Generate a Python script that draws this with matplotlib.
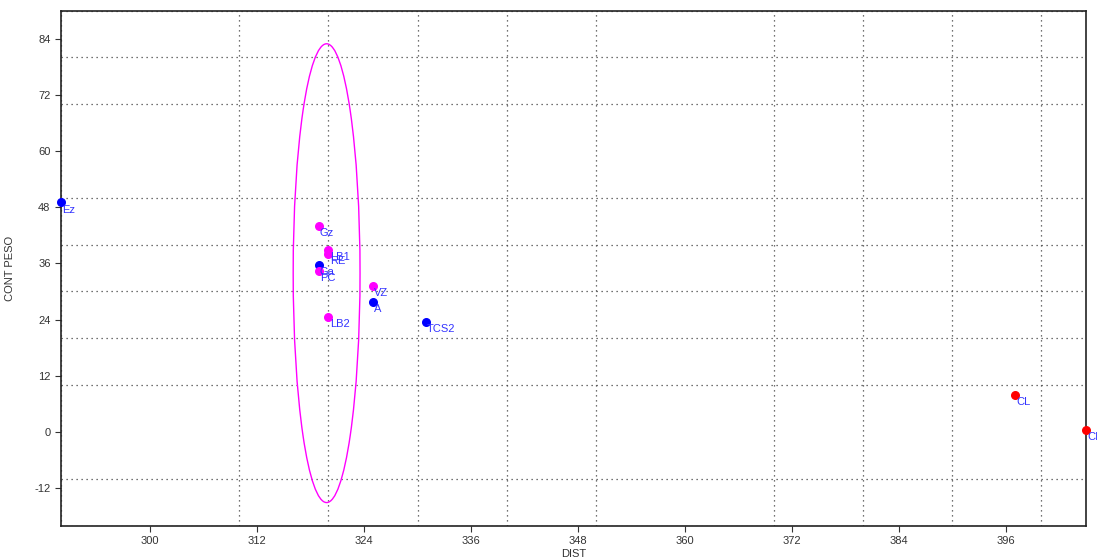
import numpy as np
import matplotlib.pyplot as plt
from matplotlib.patches import Ellipse
from matplotlib.ticker import MultipleLocator

plt.rcParams['font.family'] = ['Liberation Sans', 'DejaVu Sans']
plt.rcParams['axes.unicode_minus'] = False

# Point data (DIST, CONT PESO)
names = ["Ez", "Gz", "LB1", "RE", "Ga", "PC", "VZ", "A", "LB2", "TCS2", "CL", "CI"]
dist = [290.0, 318.9, 320.0, 320.0, 318.9, 318.9, 325.0, 325.0, 320.0, 330.9, 397.0, 405.0]
cont_peso = [49.0, 43.9, 38.8, 38.1, 35.7, 34.3, 31.1, 27.8, 24.5, 23.4, 7.8, 0.5]
groups = ["b", "m", "m", "m", "b", "m", "m", "b", "m", "b", "r", "r"]

colors = {"b": "#0000ff", "m": "#ff00ff", "r": "#ff0000"}

# Ellipse around the magenta group
ell_center = (319.8, 33.9)
ell_width = 7.5
ell_height = 98.0

fig = plt.figure(figsize=(10.97, 5.6), dpi=100)
ax = fig.add_axes([0.0556, 0.0616, 0.9344, 0.9196])

ax.set_xlim(290, 405)
ax.set_ylim(-20, 90)

# major ticks every 12, dotted grid every 10
ax.xaxis.set_major_locator(MultipleLocator(12))
ax.yaxis.set_major_locator(MultipleLocator(12))
ax.xaxis.set_minor_locator(MultipleLocator(10))
ax.yaxis.set_minor_locator(MultipleLocator(10))
ax.tick_params(which="minor", length=0)
ax.tick_params(which="major", length=4, width=0.8, labelsize=8, colors="#333333")
ax.grid(which="minor", linestyle=(0, (1, 3)), color="#444444", linewidth=0.9)
ax.set_axisbelow(True)

for s in ax.spines.values():
    s.set_linewidth(1.2)
    s.set_color("#222222")

ell = Ellipse(ell_center, ell_width, ell_height, fill=False, edgecolor="#ff00ff", linewidth=1.0)
ax.add_patch(ell)

for n, x, y, g in zip(names, dist, cont_peso, groups):
    ax.scatter(x, y, s=30, color=colors[g], zorder=3, clip_on=False)
    ax.annotate(n, (x, y), xytext=(1, -1.5), textcoords="offset points",
                ha="left", va="top", fontsize=8, color="#3333ff", zorder=4,
                annotation_clip=False)

ax.set_xlabel("DIST", fontsize=8, color="#333333")
ax.set_ylabel("CONT PESO", fontsize=8, color="#333333")
ax.xaxis.set_label_coords(0.5, -0.046)
ax.yaxis.set_label_coords(-0.045, 0.5)

fig.savefig("out.png", dpi=100)
